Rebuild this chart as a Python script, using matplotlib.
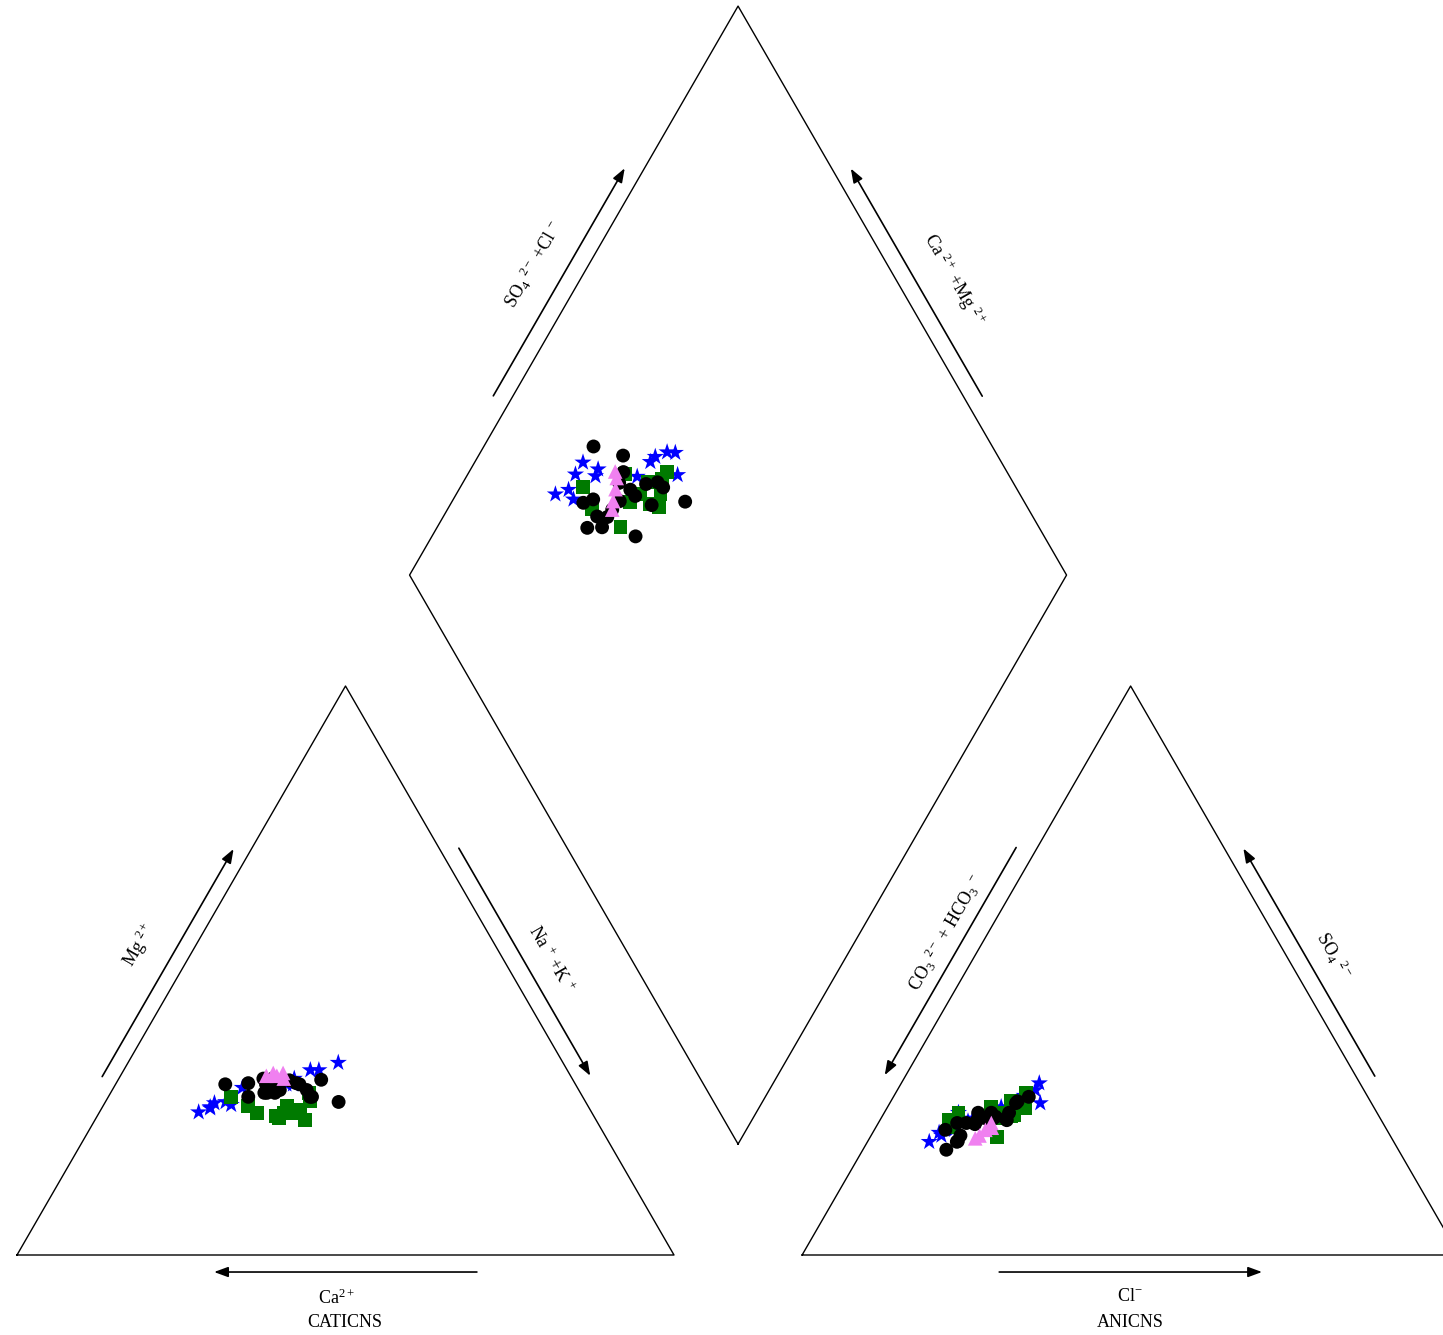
import numpy as np
import matplotlib
matplotlib.use("Agg")
import matplotlib.pyplot as plt

plt.rcParams['font.family'] = ['Liberation Serif', 'DejaVu Serif']
plt.rcParams['mathtext.fontset'] = 'custom'
plt.rcParams['mathtext.rm'] = 'Liberation Serif'
plt.rcParams['mathtext.it'] = 'Liberation Serif:italic'
plt.rcParams['mathtext.bf'] = 'Liberation Serif:bold'

# ---------------- data (% meq/L) ----------------
# blue stars
star_ca   = [59.8, 56.6, 54.8, 57.7, 57.6, 54.2, 51.0, 44.0, 42.3, 43.0, 39.1, 37.8, 34.2]
star_mg   = [25.1, 26.7, 26.9, 25.8, 26.0, 26.4, 29.4, 30.0, 31.0, 30.0, 32.5, 32.5, 33.8]
star_na   = [15.1, 16.7, 18.3, 16.5, 16.4, 19.4, 19.6, 26.0, 26.7, 27.0, 28.4, 29.7, 32.0]
star_hco3 = [70.7, 68.3, 68.4, 63.7, 65.9, 62.0, 63.0, 56.7, 53.4, 52.2, 50.0, 48.8, 50.4]
star_so4  = [19.9, 21.0, 21.5, 25.0, 22.0, 24.0, 23.5, 26.0, 27.0, 28.0, 29.0, 30.2, 26.7]
star_cl   = [9.4, 10.7, 10.1, 11.3, 12.1, 14.0, 13.5, 17.3, 19.6, 19.8, 21.0, 21.0, 22.9]

# green squares
sq_ca   = [53.5, 51.8, 51.0, 48.3, 46.8, 44.1, 41.9, 41.3, 48.1, 45.8, 45.0, 44.2]
sq_mg   = [27.8, 26.2, 25.0, 24.5, 25.0, 25.5, 27.0, 28.5, 24.0, 26.2, 25.0, 23.8]
sq_na   = [18.7, 22.0, 24.0, 27.2, 28.2, 30.4, 31.1, 30.2, 27.9, 28.0, 30.0, 32.0]
sq_hco3 = [65.8, 66.4, 58.3, 60.0, 55.5, 57.1, 54.7, 51.7, 63.7, 57.8, 53.1, 56.0]
sq_so4  = [23.7, 22.5, 26.0, 20.7, 24.6, 25.0, 27.0, 28.5, 25.0, 24.0, 25.8, 24.5]
sq_cl   = [10.5, 11.1, 15.7, 19.3, 19.9, 17.9, 18.3, 19.8, 11.3, 18.2, 21.1, 19.5]

# black circles
ci_ca   = [53.3, 37.6, 41.2, 47.1, 45.9, 49.7, 50.9, 45.4, 43.2, 42.4, 41.4, 38.3,
           46.5, 48.1, 45.9, 47.7, 47.0, 42.0, 45.5, 41.5]
ci_mg   = [30.0, 26.9, 27.8, 30.0, 29.0, 30.2, 27.8, 31.1, 30.7, 30.2, 29.0, 30.8,
           28.5, 28.5, 29.0, 28.5, 31.0, 30.0, 29.0, 27.8]
ci_na   = [16.7, 35.5, 31.0, 22.9, 25.1, 20.1, 21.3, 23.5, 26.1, 27.4, 29.6, 30.9,
           25.0, 23.4, 25.1, 23.8, 22.0, 28.0, 25.5, 30.7]
ci_hco3 = [60.7, 51.6, 62.2, 68.8, 66.5, 67.2, 65.4, 58.4, 58.9, 58.7, 54.1, 53.7,
           64.8, 66.3, 63.4, 60.0, 57.0, 56.0, 61.5, 57.0]
ci_so4  = [25.0, 27.8, 23.0, 18.5, 19.9, 22.0, 21.0, 24.3, 24.0, 25.0, 26.7, 27.0,
           23.2, 20.0, 23.2, 24.0, 24.0, 25.0, 23.7, 23.7]
ci_cl   = [14.3, 20.6, 14.8, 12.7, 13.6, 10.8, 13.6, 17.3, 17.1, 16.3, 19.2, 19.3,
           12.0, 13.7, 13.4, 16.0, 19.0, 19.0, 14.8, 19.3]

# pink triangles
tr_ca   = [43.9, 43.5, 44.7, 45.0, 46.3]
tr_mg   = [31.0, 32.0, 31.5, 32.0, 31.5]
tr_na   = [25.1, 24.5, 23.8, 23.0, 22.2]
tr_hco3 = [63.4, 62.5, 61.1, 60.3, 59.6]
tr_so4  = [20.5, 21.0, 22.0, 22.5, 23.2]
tr_cl   = [16.1, 16.5, 16.9, 17.8, 17.2]

# ---------------- geometry ----------------
H = np.sqrt(3) / 2
GAP = 0.195
AX0 = 1 + GAP          # anion triangle left corner
B = np.array([1 + GAP / 2, GAP * H])   # diamond bottom vertex


def cation_xy(ca, mg, na):
    ca, mg, na = map(np.asarray, (ca, mg, na))
    t = ca + mg + na
    m, n = mg / t, na / t
    return n + 0.5 * m, H * m


def anion_xy(hco3, so4, cl):
    hco3, so4, cl = map(np.asarray, (hco3, so4, cl))
    t = hco3 + so4 + cl
    s, c = so4 / t, cl / t
    return AX0 + c + 0.5 * s, H * s


def diamond_xy(ca, mg, na, hco3, so4, cl):
    ca, mg, na, hco3, so4, cl = map(np.asarray, (ca, mg, na, hco3, so4, cl))
    p = (ca + mg) / (ca + mg + na)
    q = (so4 + cl) / (hco3 + so4 + cl)
    return B[0] + 0.5 * (q - p), B[1] + H * (p + q)


fig = plt.figure(figsize=(14.43, 13.35), dpi=100)
ax = fig.add_axes([0, 0, 1, 1])
S = 657.0
ax.set_xlim(-17 / S, (1443 - 17) / S)
ax.set_ylim(-(1335 - 1255) / S, 1255 / S)
ax.axis('off')

lw = 1.0
# cation triangle
ax.plot([0, 1, 0.5, 0], [0, 0, H, 0], color='k', lw=lw)
# anion triangle
ax.plot([AX0, AX0 + 1, AX0 + 0.5, AX0], [0, 0, H, 0], color='k', lw=lw)
# diamond
L = B + np.array([-0.5, H])
R = B + np.array([0.5, H])
T = B + np.array([0, 2 * H])
ax.plot([B[0], R[0], T[0], L[0], B[0]], [B[1], R[1], T[1], L[1], B[1]], color='k', lw=lw)


def edge_arrow(p0, p1, f0, f1, d):
    p0 = np.asarray(p0, float)
    p1 = np.asarray(p1, float)
    v = p1 - p0
    u = v / np.linalg.norm(v)
    nrm = np.array([-u[1], u[0]])
    a = p0 + f0 * v + d * nrm
    b = p0 + f1 * v + d * nrm
    ax.annotate('', xy=b, xytext=a,
                arrowprops=dict(arrowstyle='-|>,head_length=0.6,head_width=0.22',
                                color='k', lw=1.2, mutation_scale=14,
                                shrinkA=0, shrinkB=0))


# cation arrows
edge_arrow((0, 0), (0.5, H), 0.30, 0.70, 0.0235)          # Mg up
edge_arrow((0.5, H), (1, 0), 0.30, 0.70, 0.026)           # Na+K down
edge_arrow((1, 0), (0, 0), 0.30, 0.70, 0.0259)            # Ca left
# anion arrows
edge_arrow((AX0 + 0.5, H), (AX0, 0), 0.30, 0.70, -0.028)  # CO3+HCO3 down
edge_arrow((AX0 + 1, 0), (AX0 + 0.5, H), 0.30, 0.70, -0.025)  # SO4 up
edge_arrow((AX0, 0), (AX0 + 1, 0), 0.30, 0.70, -0.0259)   # Cl right
# diamond arrows
edge_arrow(L, T, 0.30, 0.70, 0.026)
edge_arrow(R, T, 0.30, 0.70, -0.025)

fs = 13
ax.text(0.187, 0.472, r'Mg $^{2+}$', rotation=60, ha='center', va='center', fontsize=fs)
ax.text(0.812, 0.450, r'Na $^{+}$ +K $^{+}$', rotation=-60, ha='center', va='center', fontsize=fs)
ax.text(0.486, -0.066, r'Ca$^{2+}$', ha='center', va='center', fontsize=fs)
ax.text(0.499, -0.103, 'CATICNS', ha='center', va='center', fontsize=fs)
ax.text(1.414, 0.490, r'CO$_3$ $^{2-}$ + HCO$_3$ $^{-}$', rotation=60, ha='center', va='center', fontsize=fs)
ax.text(2.003, 0.456, r'SO$_4$ $^{2-}$', rotation=-60, ha='center', va='center', fontsize=fs)
ax.text(1.694, -0.063, r'Cl$^{-}$', ha='center', va='center', fontsize=fs)
ax.text(1.694, -0.103, 'ANICNS', ha='center', va='center', fontsize=fs)
ax.text(0.787, 1.507, r'SO$_4$ $^{2-}$ +Cl $^{-}$', rotation=60, ha='center', va='center', fontsize=fs)
ax.text(1.426, 1.484, r'Ca $^{2+}$ +Mg $^{2+}$', rotation=-60, ha='center', va='center', fontsize=fs)

groups = [
    (star_ca, star_mg, star_na, star_hco3, star_so4, star_cl, '*', '#0000ff', 13.0),
    (sq_ca, sq_mg, sq_na, sq_hco3, sq_so4, sq_cl, 's', '#007a00', 10.0),
    (ci_ca, ci_mg, ci_na, ci_hco3, ci_so4, ci_cl, 'o', '#000000', 10.0),
    (tr_ca, tr_mg, tr_na, tr_hco3, tr_so4, tr_cl, '^', '#f080f0', 10.5),
]
for z, (ca, mg, na, hc, so, cl, mk, col, ms) in enumerate(groups):
    for xy in (cation_xy(ca, mg, na), anion_xy(hc, so, cl),
               diamond_xy(ca, mg, na, hc, so, cl)):
        ax.scatter(xy[0], xy[1], marker=mk, s=ms ** 2, color=col,
                   edgecolors='none', zorder=3 + z)

fig.savefig('out.png', dpi=100)
